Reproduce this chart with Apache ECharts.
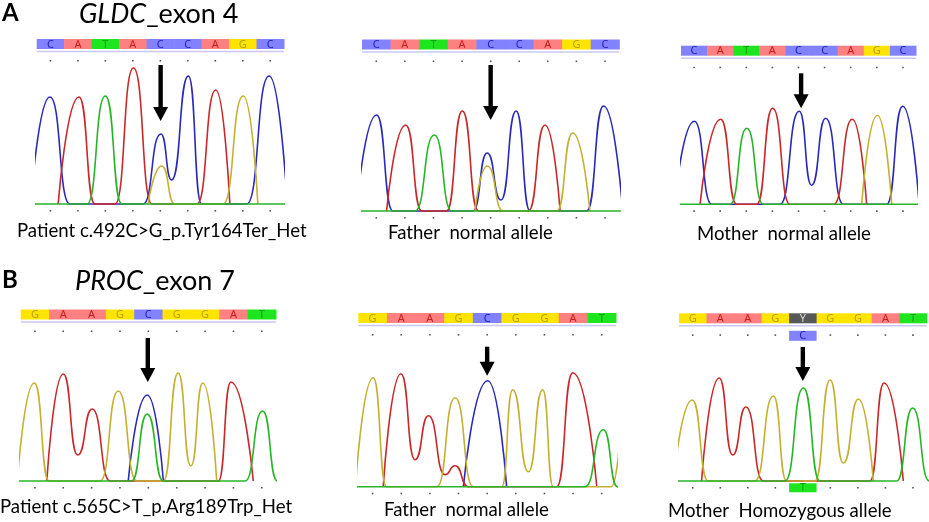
<!DOCTYPE html>
<html>
<head>
<meta charset="utf-8">
<script src="https://cdn.jsdelivr.net/npm/echarts@6/dist/echarts.min.js"></script>
<style>
  html, body { margin: 0; padding: 0; background: #fff; }
  #main { width: 929px; height: 522px; }
</style>
</head>
<body>
<div id="main"></div>
<script>
// base calls shown in the strip above each trace
const seqGLDC = ['C', 'A', 'T', 'A', 'C', 'C', 'A', 'G', 'C'];
const seqPROC = ['G', 'A', 'A', 'G', 'C', 'G', 'G', 'A', 'T'];
const seqPROCMother = ['G', 'A', 'A', 'G', 'Y', 'G', 'G', 'A', 'T'];

// secondary calls of the ambiguous base (mother, PROC)
const altIndex = [4];
const altUpper = ['C'];
const altLower = ['T'];

// traces: [position in bases, signal height]
// GLDC patient
const gPat_C = [[-0.22, 0], [0.48, 107], [1.21, 0], [3.87, 0], [4.52, 70], [4.91, 24], [5.52, 128], [6.0, 0], [7.64, 0], [8.46, 128], [9.12, 0]];
const gPat_A = [[0.78, 0], [1.54, 107], [2.12, 0], [2.85, 0], [3.52, 136], [4.2, 0], [5.83, 0], [6.52, 114], [7.03, 0]];
const gPat_G = [[4.05, 0], [4.55, 38], [5.03, 0], [6.78, 0], [7.52, 108], [8.05, 0]];
const gPat_T = [[-0.3, 0], [1.83, 0], [2.5, 108], [3.1, 0], [9.3, 0]];
// GLDC father
const gFat_C = [[-0.2, 0], [0.51, 96], [1.08, 0], [3.88, 0], [4.38, 58], [4.86, 11], [5.39, 100], [5.88, 0], [7.86, 0], [8.45, 105], [9.12, 0]];
const gFat_A = [[0.86, 0], [1.53, 86], [2.09, 0], [2.96, 0], [3.51, 100], [4.07, 0], [5.82, 0], [6.4, 86], [6.93, 0]];
const gFat_G = [[3.95, 0], [4.38, 45], [4.94, 0], [6.81, 0], [7.37, 78], [7.97, 0]];
const gFat_T = [[-0.3, 0], [1.85, 0], [2.53, 76], [3.14, 0], [9.3, 0]];
// GLDC mother
const gMot_C = [[-0.25, 0], [0.51, 83], [1.18, 0], [3.79, 0], [4.53, 93], [5.0, 19], [5.54, 86], [6.22, 0], [7.88, 0], [8.49, 98], [9.12, 0]];
const gMot_A = [[0.73, 0], [1.52, 85], [2.13, 0], [2.9, 0], [3.51, 96], [4.17, 0], [5.85, 0], [6.56, 85], [7.11, 0]];
const gMot_G = [[6.92, 0], [7.52, 89], [8.07, 0]];
const gMot_T = [[-0.3, 0], [1.88, 0], [2.52, 76], [3.15, 0], [9.3, 0]];
// PROC patient
const pPat_C = [[3.79, 0], [4.46, 86], [5.03, 0]];
const pPat_A = [[0.92, 0], [1.5, 107], [2.01, 26], [2.52, 72], [3.15, 0], [6.97, 0], [7.41, 99], [8.2, 0]];
const pPat_G = [[-0.12, 0], [0.48, 98], [1.0, 0], [2.8, 0], [3.44, 90], [4.09, 0], [5.03, 0], [5.55, 108], [6.0, 15], [6.42, 98], [6.91, 0]];
const pPat_T = [[-0.3, 0], [3.91, 0], [4.46, 67], [5.03, 0], [7.91, 0], [8.53, 70], [9.05, 0], [9.3, 0]];
// PROC father
const pFat_C = [[3.67, 0], [4.52, 106], [5.18, 0]];
const pFat_A = [[0.87, 0], [1.49, 113], [1.98, 27], [2.45, 71], [3.03, 12], [3.38, 21], [3.84, 0], [6.93, 0], [7.49, 114], [8.33, 0]];
const pFat_G = [[-0.1, 0], [0.52, 109], [0.99, 0], [2.74, 0], [3.38, 89], [4.02, 0], [5.01, 0], [5.39, 97], [5.94, 15], [6.44, 97], [6.81, 0], [8.84, 0], [9.2, 70]];
const pFat_T = [[-0.3, 0], [7.92, 0], [8.56, 57], [9.05, 0], [9.3, 0]];
// PROC mother
const pMot_C = [[3.9, 0], [4.5, 0]];
const pMot_A = [[0.82, 0], [1.46, 103], [1.95, 26], [2.43, 74], [3.06, 0], [6.94, 0], [7.45, 98], [8.15, 0]];
const pMot_G = [[-0.2, 0], [0.48, 81], [1.06, 0], [2.76, 0], [3.43, 85], [3.91, 0], [4.94, 0], [5.49, 101], [5.97, 18], [6.52, 82], [7.06, 0]];
const pMot_T = [[-0.3, 0], [3.85, 0], [4.52, 93], [5.12, 0], [7.91, 0], [8.49, 73], [9.1, 0], [9.3, 0]];

// arrows: [position in bases, top height, tip height]
const arrowGPat = [4.51, 139, 83];
const arrowGFat = [4.5, 146, 91];
const arrowGMot = [4.6, 131, 96];
const arrowPPat = [4.48, 143, 99];
const arrowPFat = [4.5, 140, 111];
const arrowPMot = [4.5, 134, 100];

const cellColor = { A: '#ff8080', C: '#8282ff', G: '#ffe400', T: '#1ee61e', Y: '#585858' };
const letterColor = { A: '#c42020', C: '#2424b8', G: '#b4a000', T: '#12a012', Y: '#d8d8d8' };
const traceColor = { A: '#c8282a', C: '#2a2ab8', G: '#c4b030', T: '#28b428' };

// panel layout (pixels)
const panels = [
  { x0: 36.7, x1: 284, top: 39, base: 204, seq: seqGLDC, tr: { C: gPat_C, A: gPat_A, G: gPat_G, T: gPat_T }, arrow: arrowGPat },
  { x0: 362, x1: 619.3, top: 39.5, base: 211, seq: seqGLDC, tr: { C: gFat_C, A: gFat_A, G: gFat_G, T: gFat_T }, arrow: arrowGFat },
  { x0: 681, x1: 916, top: 45.7, base: 204.3, seq: seqGLDC, tr: { C: gMot_C, A: gMot_A, G: gMot_G, T: gMot_T }, arrow: arrowGMot },
  { x0: 20.7, x1: 276, top: 309.5, base: 481, seq: seqPROC, tr: { C: pPat_C, A: pPat_A, G: pPat_G, T: pPat_T }, arrow: arrowPPat },
  { x0: 358.3, x1: 616, top: 313, base: 486.7, seq: seqPROC, tr: { C: pFat_C, A: pFat_A, G: pFat_G, T: pFat_T }, arrow: arrowPFat },
  { x0: 679, x1: 926.7, top: 313.3, base: 481, seq: seqPROCMother, tr: { C: pMot_C, A: pMot_A, G: pMot_G, T: pMot_T }, arrow: arrowPMot, alt: true }
];

const BELOW = 14;
const cellFont = '11px "Noto Sans"';

const grids = [], xAxes = [], yAxes = [], series = [];

panels.forEach((p, k) => {
  grids.push({ left: p.x0, top: p.top, width: p.x1 - p.x0, height: p.base - p.top + BELOW });
  xAxes.push({ type: 'value', gridIndex: k, min: 0, max: 9, show: false });
  yAxes.push({ type: 'value', gridIndex: k, min: -BELOW, max: p.base - p.top, show: false });

  ['C', 'A', 'G', 'T'].forEach(ch => {
    series.push({
      type: 'line', xAxisIndex: k, yAxisIndex: k,
      data: p.tr[ch], smooth: 0.58, smoothMonotone: 'x',
      symbol: 'none', silent: true, clip: true,
      lineStyle: { color: traceColor[ch], width: 1.6 }
    });
  });

  // sequence strip, dots and alternative calls
  series.push({
    type: 'custom', xAxisIndex: k, yAxisIndex: k, silent: true, clip: false,
    data: p.seq.map((b, i) => [i, 0]),
    renderItem: function (params, api) {
      const i = api.value(0);
      const a = api.coord([i, 0]);
      const b = api.coord([i + 1, 0]);
      const cs = params.coordSys;
      const top = cs.y;
      const cx = (a[0] + b[0]) / 2;
      const letter = p.seq[i];
      const children = [
        { type: 'rect', shape: { x: a[0], y: top, width: b[0] - a[0] + 0.5, height: 10 }, style: { fill: cellColor[letter] } },
        { type: 'text', x: cx, y: top + 5.5, style: { text: letter, fill: letterColor[letter], font: cellFont, align: 'center', verticalAlign: 'middle' } }
      ];
      if (i === 0) {
        children.push({ type: 'line', shape: { x1: cs.x, y1: top + 12.5, x2: cs.x + cs.width, y2: top + 12.5 }, style: { stroke: '#c8c8f2', lineWidth: 1.5 } });
      }
      const ai = p.alt ? altIndex.indexOf(i) : -1;
      if (ai >= 0) {
        children.push({ type: 'rect', shape: { x: a[0], y: top + 17.5, width: b[0] - a[0], height: 10 }, style: { fill: cellColor[altUpper[ai]] } });
        children.push({ type: 'text', x: cx, y: top + 23, style: { text: altUpper[ai], fill: letterColor[altUpper[ai]], font: cellFont, align: 'center', verticalAlign: 'middle' } });
        children.push({ type: 'rect', shape: { x: a[0], y: a[1] + 2.3, width: b[0] - a[0], height: 9 }, style: { fill: cellColor[altLower[ai]] } });
        children.push({ type: 'text', x: cx, y: a[1] + 7.3, style: { text: altLower[ai], fill: letterColor[altLower[ai]], font: cellFont, align: 'center', verticalAlign: 'middle' } });
      } else {
        children.push({ type: 'rect', shape: { x: cx - 0.8, y: top + 21, width: 1.6, height: 1.6 }, style: { fill: '#555' } });
        children.push({ type: 'rect', shape: { x: cx - 0.8, y: a[1] + 6, width: 1.6, height: 1.6 }, style: { fill: '#555' } });
      }
      return { type: 'group', children: children };
    }
  });

  // arrow
  series.push({
    type: 'custom', xAxisIndex: k, yAxisIndex: k, silent: true, clip: false, z: 5,
    data: [p.arrow],
    renderItem: function (params, api) {
      const t = api.coord([api.value(0), api.value(1)]);
      const e = api.coord([api.value(0), api.value(2)]);
      return {
        type: 'group', children: [
          { type: 'rect', shape: { x: t[0] - 2.2, y: t[1], width: 4.4, height: e[1] - t[1] - 12 }, style: { fill: '#000' } },
          { type: 'polygon', shape: { points: [[t[0] - 7.5, e[1] - 14], [t[0] + 7.5, e[1] - 14], [t[0], e[1]]] }, style: { fill: '#000' } }
        ]
      };
    }
  });
});

const labelFont = '18.6px Lato';
const titleFont = '27px Lato';
function txt(x, y, text, font, rich) {
  return { type: 'text', x: x, y: y, style: { text: text, font: font, fill: '#000', verticalAlign: 'middle', rich: rich } };
}
const italic = { i: { font: 'italic ' + titleFont } };
const graphics = [
  txt(2, 13, 'A', 'bold 24px Lato'),
  txt(79, 14, '{i|GLDC}_exon 4', titleFont, italic),
  txt(2, 280, 'B', 'bold 24px Lato'),
  txt(75, 281, '{i|PROC}_exon 7', titleFont, italic),
  txt(17, 231, 'Patient c.492C>G_p.Tyr164Ter_Het', labelFont),
  txt(388, 232.5, 'Father  normal allele', labelFont),
  txt(697, 234, 'Mother  normal allele', labelFont),
  txt(0, 506.5, 'Patient c.565C>T_p.Arg189Trp_Het', labelFont),
  txt(384, 509.5, 'Father  normal allele', labelFont),
  txt(668, 510.5, 'Mother  Homozygous allele', labelFont)
];

const chart = echarts.init(document.getElementById('main'));
chart.setOption({
  animation: false,
  backgroundColor: '#fff',
  grid: grids,
  xAxis: xAxes,
  yAxis: yAxes,
  series: series,
  graphic: graphics
});
</script>
</body>
</html>
